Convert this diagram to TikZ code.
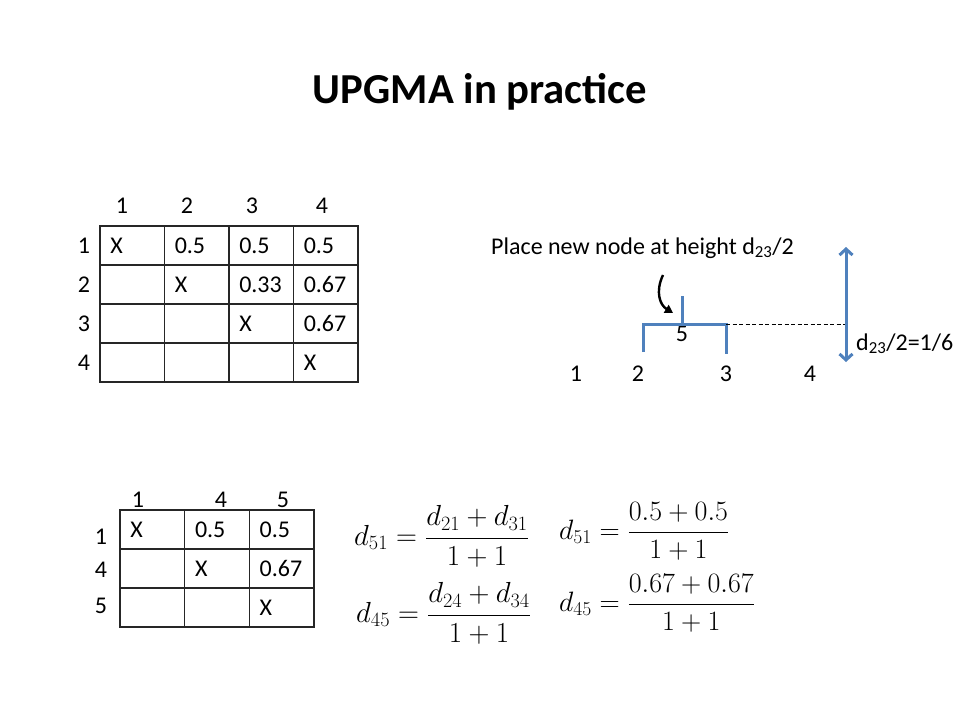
\documentclass[tikz,border=0pt]{standalone}
\usepackage{fix-cm}
\usepackage{fontspec}
\setmainfont{Carlito}
\usetikzlibrary{arrows.meta}

\definecolor{treeblue}{RGB}{79,129,189}

\begin{document}
\begin{tikzpicture}[x=1pt,y=1pt,
   box/.style={rectangle,draw=black!85,line width=1.1pt,minimum width=64.5pt,
    minimum height=39pt,text width=44pt,inner xsep=10pt,inner ysep=0pt,
    align=left,font=\fontsize{24}{28}\selectfont},
   lbl/.style={inner sep=0pt,anchor=base,font=\fontsize{24}{28}\selectfont},
   eq/.style={inner sep=0pt,anchor=west,font=\fontsize{29}{33}\selectfont},
   branch/.style={treeblue,line width=3pt}
    ]

  \fill[white] (0,0) rectangle (960,-720);
  \useasboundingbox (0,0) rectangle (960,-720);

  \node[lbl,font=\bfseries\fontsize{42.7}{50}\selectfont] (title) at (480,-103.5) {UPGMA in practice};

  % -- first matrix
  \node[lbl] (h1) at (122,-213) {1};
  \node[lbl] (h2) at (187,-213) {2};
  \node[lbl] (h3) at (252,-213) {3};
  \node[lbl] (h4) at (322,-213) {4};
  \node[lbl] (r1) at (84,-253) {1};
  \node[lbl] (r2) at (84,-292) {2};
  \node[lbl] (r3) at (84,-331) {3};
  \node[lbl] (r4) at (84,-370) {4};

  \node[box] at (132.25,-245.5) (c11) {X};
  \node[box] at (196.75,-245.5) (c12) {0.5};
  \node[box] at (261.25,-245.5) (c13) {0.5};
  \node[box] at (325.75,-245.5) (c14) {0.5};
  \node[box] at (132.25,-284.5) (c21) {};
  \node[box] at (196.75,-284.5) (c22) {X};
  \node[box] at (261.25,-284.5) (c23) {0.33};
  \node[box] at (325.75,-284.5) (c24) {0.67};
  \node[box] at (132.25,-323.5) (c31) {};
  \node[box] at (196.75,-323.5) (c32) {};
  \node[box] at (261.25,-323.5) (c33) {X};
  \node[box] at (325.75,-323.5) (c34) {0.67};
  \node[box] at (132.25,-362.5) (c41) {};
  \node[box] at (196.75,-362.5) (c42) {};
  \node[box] at (261.25,-362.5) (c43) {};
  \node[box] at (325.75,-362.5) (c44) {X};

  % -- tree
  \node[lbl,anchor=base west] (note) at (491,-254) {Place new node at height d\textsubscript{23}/2};
  \node[lbl] (l1) at (576,-381) {1};
  \node[lbl] (l2) at (638,-381) {2};
  \node[lbl] (l3) at (726,-381) {3};
  \node[lbl] (l4) at (810,-381) {4};
  \node[lbl] (n5) at (682,-341) {5};

  \coordinate (j2) at (643,-352);
  \coordinate (j3) at (726,-354);
  \coordinate (mid5) at (682,-324);
  \coordinate (top5) at (682,-296);
  \coordinate (htop) at (846,-247);
  \coordinate (hbot) at (846,-362);
  \coordinate (a0) at (663,-275);
  \coordinate (a1) at (673,-313);

  \draw[branch] (j2) |- (mid5) -| (j3);
  \draw[branch] (mid5) -- (top5);
  \draw[line width=0.8pt,dash pattern=on 4pt off 2.5pt] (j3 |- mid5) -- (htop |- mid5);
  \draw[branch,{Straight Barb[length=6pt,width=13pt]}-{Straight Barb[length=6pt,width=13pt]}] (hbot) -- (htop);
  \node[lbl,anchor=base west] (dlab) at (856,-350) {d\textsubscript{23}/2=1/6};

  % -- arrow
  \draw[line width=2.4pt,-{Triangle[length=8pt,width=9pt]}] (a0) .. controls (655,-292) and (660,-305) .. (a1);

  % -- second matrix
  \node[lbl] (g1) at (138,-507) {1};
  \node[lbl] (g4) at (221,-507) {4};
  \node[lbl] (g5) at (283,-507) {5};
  \node[lbl] (s1) at (101,-544) {1};
  \node[lbl] (s4) at (101,-577) {4};
  \node[lbl] (s5) at (101,-613) {5};

  \node[box,minimum width=64.67pt] at (152.33,-529.5) (e11) {X};
  \node[box,minimum width=64.67pt] at (217,-529.5) (e14) {0.5};
  \node[box,minimum width=64.67pt] at (281.67,-529.5) (e15) {0.5};
  \node[box,minimum width=64.67pt] at (152.33,-568.5) (e41) {};
  \node[box,minimum width=64.67pt] at (217,-568.5) (e44) {X};
  \node[box,minimum width=64.67pt] at (281.67,-568.5) (e45) {0.67};
  \node[box,minimum width=64.67pt] at (152.33,-607.5) (e51) {};
  \node[box,minimum width=64.67pt] at (217,-607.5) (e54) {};
  \node[box,minimum width=64.67pt] at (281.67,-607.5) (e55) {X};

  % -- formulas
  \node[eq] (f1) at (354,-536.5) {$\displaystyle d_{51}=\frac{d_{21}+d_{31}}{1+1}$};
  \node[eq] (f2) at (356,-613.5) {$\displaystyle d_{45}=\frac{d_{24}+d_{34}}{1+1}$};
  \node[eq,font=\fontsize{28}{32}\selectfont] (f3) at (559,-531.6) {$\displaystyle d_{51}=\frac{0.5+0.5}{1+1}$};
  \node[eq,font=\fontsize{28}{32}\selectfont] (f4) at (559,-603.6) {$\displaystyle d_{45}=\frac{0.67+0.67}{1+1}$};

\end{tikzpicture}
\end{document}
